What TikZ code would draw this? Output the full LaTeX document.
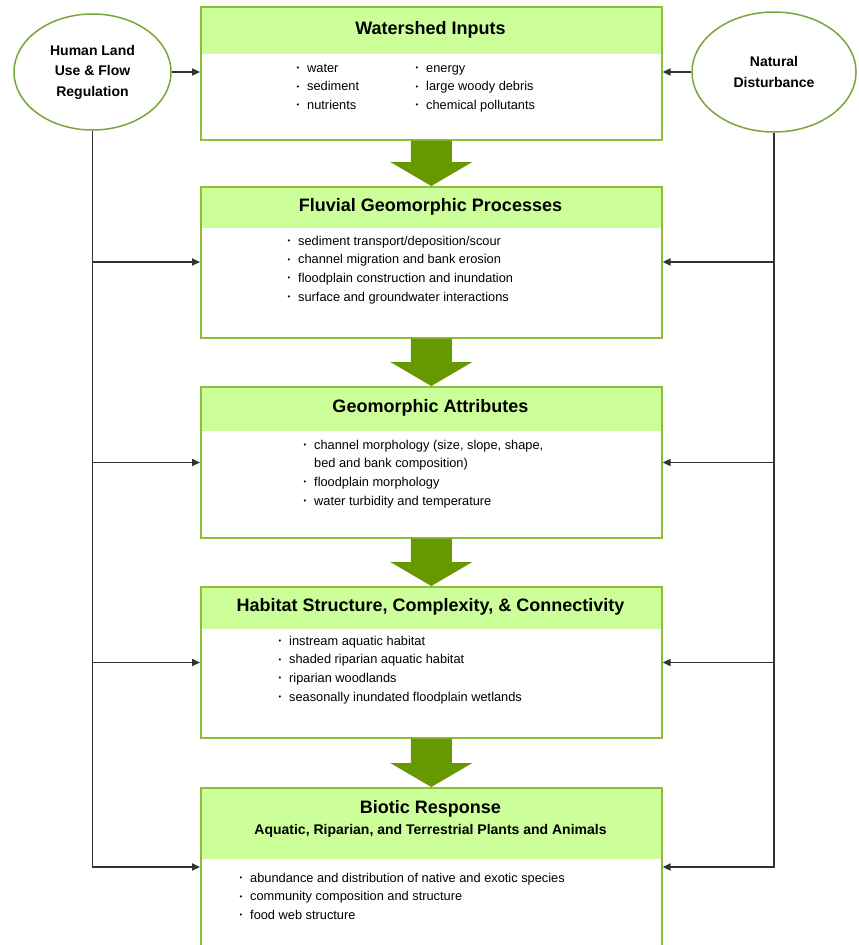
\documentclass[tikz,border=0pt]{standalone}
\usepackage{fontspec}
\usepackage{graphicx}
\setmainfont{Liberation Sans}
\usetikzlibrary{shapes.geometric,arrows.meta,calc}
\definecolor{boxc}{RGB}{140,190,60}
\definecolor{hdrc}{RGB}{204,255,153}
\definecolor{arrc}{RGB}{102,153,0}
\definecolor{ellc}{RGB}{120,165,60}
\definecolor{linec}{RGB}{50,50,50}
\newcommand\bl{\leavevmode\llap{\raisebox{0.25ex}{\scalebox{0.6}{\textbullet}}\hspace{8pt}}}
\newcommand\garrow[2]{\fill[garr] ($(#1.south)+(-20.5,0)$) -- ($(#1.south)+(20.5,0)$) -- ($(#2.north)+(20.5,-24)$) -- ($(#2.north)+(41,-24)$) -- (#2.north) -- ($(#2.north)+(-41,-24)$) -- ($(#2.north)+(-20.5,-24)$) -- cycle;}
\begin{document}
\begin{tikzpicture}[x=1pt,y=-1pt,
 hdr/.code={\def\hdrh{#1}},
 box/.style={draw=boxc, line width=1.6pt, minimum width=461pt, anchor=north west, inner sep=0pt,
   path picture={\fill[hdrc] (path picture bounding box.north west) rectangle ([yshift=-\hdrh pt]path picture bounding box.north east);}},
 ttl/.style={font=\fontsize{18}{21}\selectfont\bfseries, anchor=base, inner sep=0pt},
 lst/.style={font=\fontsize{12.8}{18.7}\selectfont, align=left, anchor=base west, inner sep=0pt},
 ell/.style={ellipse, draw=ellc, line width=1.5pt, font=\fontsize{14}{20.5}\selectfont\bfseries, align=center, inner sep=0pt},
 conn/.style={draw=linec, line width=1.7pt},
 arr/.style={conn, -{Triangle[length=8pt,width=7pt]}},
 garr/.style={fill=arrc}]
\clip (0,0) rectangle (859,945);
\fill[white] (0,0) rectangle (859,945);
% boxes
\node[box, hdr=47, minimum height=133pt] (b1) at (200,6) {};
\node[box, hdr=41, minimum height=151pt] (b2) at (200,186) {};
\node[box, hdr=44, minimum height=151pt] (b3) at (200,386) {};
\node[box, hdr=42, minimum height=151pt] (b4) at (200,586) {};
\node[box, hdr=71, minimum height=175pt] (b5) at (200,787) {};
% titles
\node[ttl] (t1) at (430.5,34) {Watershed Inputs};
\node[ttl] (t2) at (430.5,211) {Fluvial Geomorphic Processes};
\node[ttl] (t3) at (430.5,412) {Geomorphic Attributes};
\node[ttl] (t4) at (430.5,611) {Habitat Structure, Complexity, \& Connectivity};
\node[ttl] (t5) at (430.5,813) {Biotic Response};
\node[ttl, font=\fontsize{14}{16}\selectfont\bfseries] (t5s) at (430.5,834) {Aquatic, Riparian, and Terrestrial Plants and Animals};
% lists (anchored at the baseline of their last line)
\node[lst] (l1a) at (307,109.4) {\bl water\\\bl sediment\\\bl nutrients};
\node[lst] (l1b) at (426,109.4) {\bl energy\\\bl large woody debris\\\bl chemical pollutants};
\node[lst] (l2) at (298,301.1) {\bl sediment transport/deposition/scour\\\bl channel migration and bank erosion\\\bl floodplain construction and inundation\\\bl surface and groundwater interactions};
\node[lst] (l3) at (314,505.1) {\bl channel morphology (size, slope, shape,\\bed and bank composition)\\\bl floodplain morphology\\\bl water turbidity and temperature};
\node[lst] (l4) at (289,701.1) {\bl instream aquatic habitat\\\bl shaded riparian aquatic habitat\\\bl riparian woodlands\\\bl seasonally inundated floodplain wetlands};
\node[lst] (l5) at (250,919.4) {\bl abundance and distribution of native and exotic species\\\bl community composition and structure\\\bl food web structure};
% block arrows
\garrow{b1}{b2}
\garrow{b2}{b3}
\garrow{b3}{b4}
\garrow{b4}{b5}
% ellipses
\node[ell, minimum width=157pt, minimum height=116pt] (L) at (92.5,72) {Human Land\\Use \& Flow\\Regulation};
\node[ell, minimum width=164pt, minimum height=120pt] (R) at (774,72) {Natural\\Disturbance};
% connectors
\draw[arr] (L.east) -- (L.east -| b1.west);
\draw[arr] (R.west) -- (R.west -| b1.east);
\coordinate (lb) at (92.5,867);
\coordinate (rb) at (774,867);
\draw[arr] (L.south) -- (lb) -- (lb -| b5.west);
\draw[arr] (R.south) -- (rb) -- (rb -| b5.east);
\coordinate (l2c) at (92.5,262);
\coordinate (l3c) at (92.5,462.5);
\coordinate (l4c) at (92.5,662.5);
\coordinate (r2c) at (774,262);
\coordinate (r3c) at (774,462.5);
\coordinate (r4c) at (774,662.5);
\draw[arr] (l2c) -- (l2c -| b2.west);
\draw[arr] (l3c) -- (l3c -| b3.west);
\draw[arr] (l4c) -- (l4c -| b4.west);
\draw[arr] (r2c) -- (r2c -| b2.east);
\draw[arr] (r3c) -- (r3c -| b3.east);
\draw[arr] (r4c) -- (r4c -| b4.east);
\end{tikzpicture}
\end{document}
